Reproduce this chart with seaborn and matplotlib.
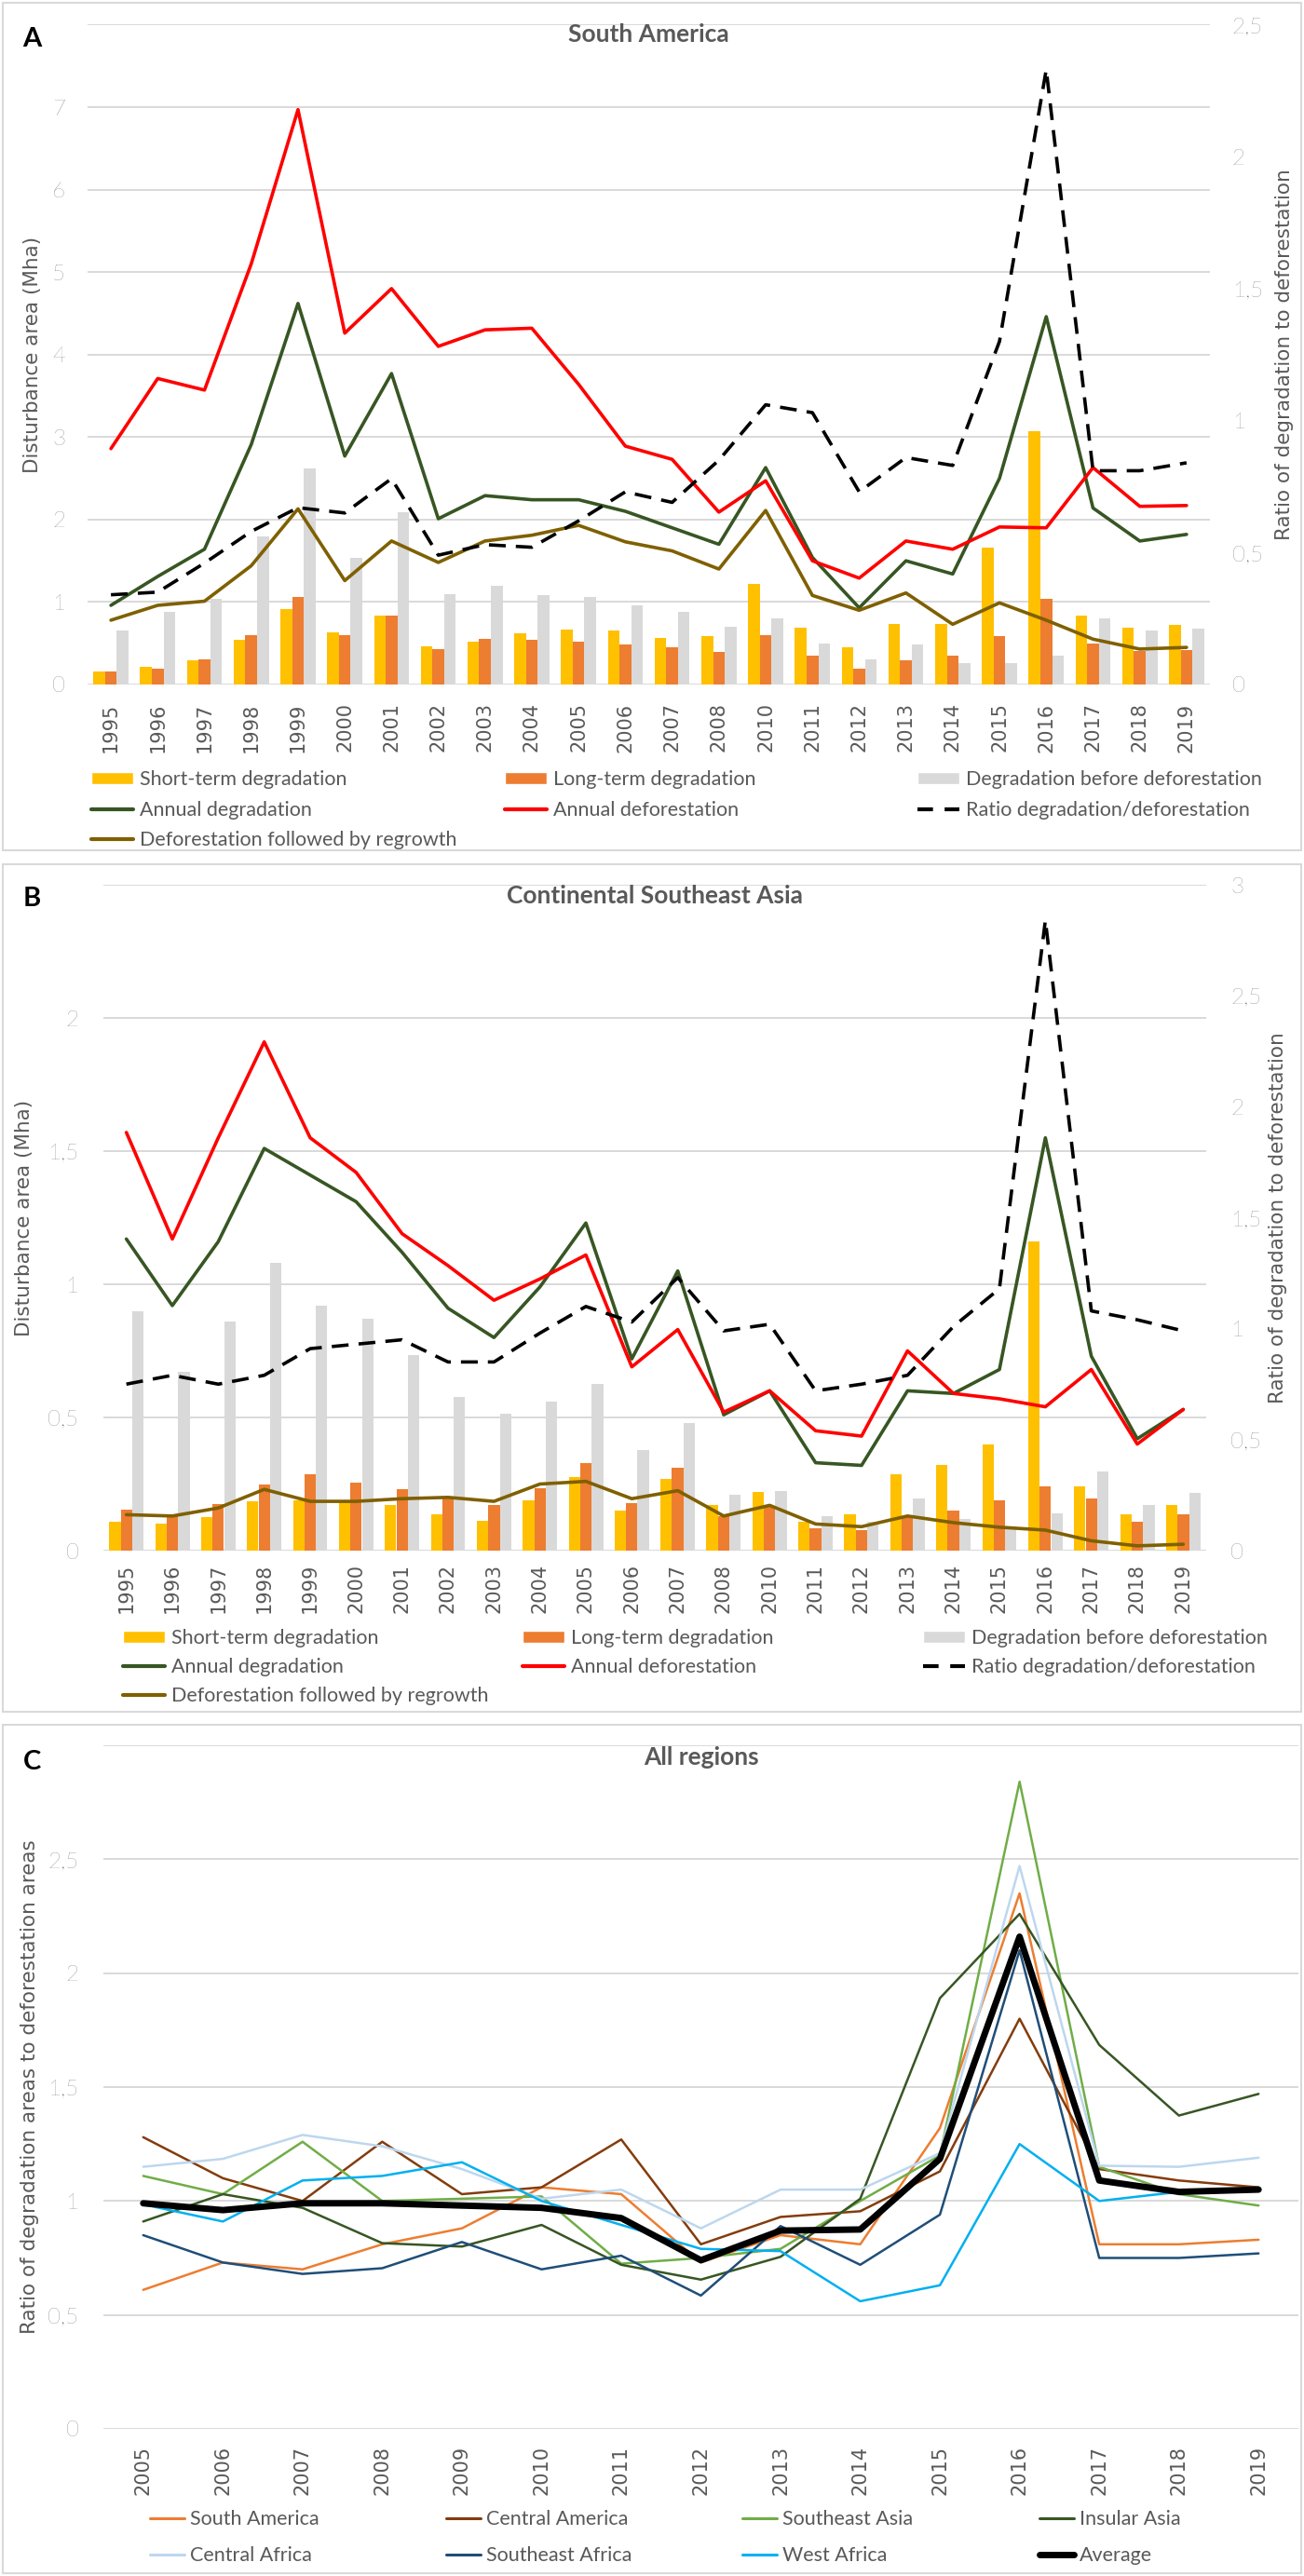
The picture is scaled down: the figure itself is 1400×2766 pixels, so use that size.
import numpy as np
import matplotlib
matplotlib.use('Agg')
import matplotlib.pyplot as plt
from matplotlib.patches import Rectangle, Patch
from matplotlib.lines import Line2D
import pandas as pd
import seaborn as sns

# ---- data ----
years = ['1995', '1996', '1997', '1998', '1999', '2000', '2001', '2002', '2003', '2004',
         '2005', '2006', '2007', '2008', '2010', '2011', '2012', '2013', '2014', '2015',
         '2016', '2017', '2018', '2019']

# A: South America (Mha, ratio on right axis)
sa_short = [0.16, 0.21, 0.29, 0.54, 0.92, 0.63, 0.84, 0.46, 0.52, 0.62, 0.67, 0.65,
            0.56, 0.59, 1.22, 0.69, 0.45, 0.73, 0.73, 1.66, 3.07, 0.83, 0.69, 0.72]
sa_long = [0.16, 0.19, 0.31, 0.60, 1.06, 0.60, 0.84, 0.43, 0.55, 0.54, 0.52, 0.49,
           0.45, 0.39, 0.60, 0.35, 0.19, 0.29, 0.35, 0.59, 1.04, 0.50, 0.41, 0.42]
sa_before = [0.65, 0.88, 1.04, 1.80, 2.62, 1.54, 2.09, 1.10, 1.20, 1.08, 1.06, 0.96,
             0.88, 0.70, 0.80, 0.50, 0.30, 0.48, 0.26, 0.26, 0.35, 0.80, 0.65, 0.68]
sa_degr = [0.96, 1.31, 1.64, 2.91, 4.62, 2.77, 3.77, 2.01, 2.29, 2.24, 2.24, 2.10,
           1.90, 1.70, 2.63, 1.54, 0.93, 1.50, 1.34, 2.50, 4.46, 2.14, 1.74, 1.82]
sa_defor = [2.86, 3.71, 3.57, 5.10, 6.97, 4.26, 4.80, 4.10, 4.30, 4.32, 3.64, 2.89,
            2.73, 2.09, 2.47, 1.50, 1.29, 1.74, 1.64, 1.91, 1.90, 2.63, 2.16, 2.17]
sa_regrowth = [0.78, 0.96, 1.01, 1.44, 2.13, 1.26, 1.74, 1.48, 1.74, 1.81, 1.93, 1.73,
               1.62, 1.40, 2.11, 1.08, 0.90, 1.11, 0.73, 0.99, 0.78, 0.55, 0.43, 0.45]
sa_ratio = [0.34, 0.35, 0.46, 0.58, 0.67, 0.65, 0.78, 0.49, 0.53, 0.52, 0.62, 0.73,
            0.69, 0.85, 1.06, 1.03, 0.73, 0.86, 0.83, 1.30, 2.33, 0.81, 0.81, 0.84]

# B: Continental Southeast Asia
csa_short = [0.11, 0.10, 0.125, 0.185, 0.19, 0.19, 0.17, 0.137, 0.112, 0.19, 0.277, 0.15,
             0.27, 0.17, 0.22, 0.11, 0.135, 0.285, 0.32, 0.40, 1.16, 0.24, 0.137, 0.17]
csa_long = [0.155, 0.135, 0.175, 0.25, 0.285, 0.255, 0.23, 0.20, 0.17, 0.235, 0.33, 0.18,
            0.31, 0.13, 0.165, 0.083, 0.077, 0.13, 0.15, 0.19, 0.24, 0.195, 0.108, 0.135]
csa_before = [0.90, 0.67, 0.86, 1.08, 0.92, 0.87, 0.735, 0.577, 0.514, 0.56, 0.626, 0.377,
              0.48, 0.21, 0.224, 0.128, 0.11, 0.195, 0.118, 0.09, 0.14, 0.296, 0.17, 0.218]
csa_degr = [1.17, 0.92, 1.16, 1.51, 1.41, 1.31, 1.12, 0.91, 0.80, 0.99, 1.23, 0.72,
            1.05, 0.51, 0.60, 0.33, 0.32, 0.60, 0.59, 0.68, 1.55, 0.73, 0.42, 0.53]
csa_defor = [1.57, 1.17, 1.55, 1.91, 1.55, 1.42, 1.19, 1.07, 0.94, 1.02, 1.11, 0.69,
             0.83, 0.52, 0.60, 0.45, 0.43, 0.75, 0.59, 0.57, 0.54, 0.68, 0.40, 0.53]
csa_regrowth = [0.135, 0.13, 0.16, 0.23, 0.185, 0.185, 0.195, 0.20, 0.185, 0.25, 0.26, 0.195,
                0.225, 0.13, 0.17, 0.10, 0.09, 0.13, 0.105, 0.088, 0.077, 0.037, 0.018, 0.024]
csa_ratio = [0.75, 0.79, 0.75, 0.79, 0.91, 0.93, 0.95, 0.85, 0.85, 0.98, 1.10, 1.03,
             1.23, 0.99, 1.02, 0.72, 0.75, 0.79, 1.01, 1.18, 2.84, 1.08, 1.04, 0.99]

# C: ratio for all regions
years_c = [str(y) for y in range(2005, 2020)]
r_south_america = [0.61, 0.73, 0.70, 0.81, 0.88, 1.06, 1.03, 0.73, 0.85, 0.81, 1.32, 2.35, 0.81, 0.81, 0.83]
r_central_america = [1.28, 1.10, 1.00, 1.26, 1.03, 1.06, 1.27, 0.81, 0.93, 0.955, 1.13, 1.80, 1.14, 1.09, 1.06]
r_southeast_asia = [1.11, 1.03, 1.26, 1.00, 1.01, 1.02, 0.725, 0.75, 0.79, 1.00, 1.20, 2.84, 1.15, 1.03, 0.98]
r_insular_asia = [0.91, 1.03, 0.97, 0.815, 0.80, 0.895, 0.72, 0.655, 0.755, 1.01, 1.89, 2.26, 1.685, 1.375, 1.47]
r_central_africa = [1.15, 1.185, 1.29, 1.24, 1.14, 1.01, 1.05, 0.88, 1.05, 1.05, 1.21, 2.47, 1.155, 1.15, 1.19]
r_southeast_africa = [0.85, 0.73, 0.68, 0.705, 0.82, 0.70, 0.76, 0.585, 0.89, 0.72, 0.94, 2.10, 0.75, 0.75, 0.77]
r_west_africa = [0.985, 0.91, 1.09, 1.11, 1.17, 1.00, 0.895, 0.79, 0.78, 0.56, 0.63, 1.25, 1.00, 1.04, 1.05]
r_average = [0.99, 0.96, 0.99, 0.99, 0.98, 0.97, 0.925, 0.74, 0.87, 0.875, 1.185, 2.16, 1.09, 1.04, 1.05]

# ---- style ----
sns.set_style('white')
NARROW = ['Lato', 'DejaVu Sans']
WIDE = ['DejaVu Sans']
plt.rcParams['font.family'] = NARROW

GRID = '#D9D9D9'
TXT = '#595959'
BAR_COLORS = ['#FFC000', '#ED7D31', '#D9D9D9']
C_DEGR, C_DEFOR, C_REGROW = '#375623', '#FF0000', '#7F6000'

W, H = 1400, 2766
fig = plt.figure(figsize=(W / 100, H / 100), dpi=100)


def axes_px(l, t, r, b):
    return fig.add_axes([l / W, 1 - b / H, (r - l) / W, (b - t) / H])


def comma(v):
    return ('%g' % v).replace('.', ',')


def legend_at(handle, label, x, y, fs=15.5, hl=2.1):
    lg = fig.legend(handles=[handle], labels=[label], loc='center left',
                    bbox_to_anchor=(x / W, 1 - y / H), frameon=False, fontsize=fs,
                    handlelength=hl, handleheight=0.6, handletextpad=0.3,
                    borderpad=0, borderaxespad=0, labelcolor=TXT)
    return lg


def box(top, bottom):
    fig.add_artist(Rectangle((3 / W, 1 - bottom / H), (W - 6) / W, (bottom - top) / H,
                             transform=fig.transFigure, fill=False, edgecolor=GRID, lw=1.5))


def style_ticks(ax, pad):
    ax.tick_params(axis='y', length=0, labelsize=17.5, labelcolor=TXT, pad=pad)
    for lbl in ax.get_yticklabels():
        lbl.set_fontweight('light')


def style_main(ax, ymax, step, xpad, ypad):
    ticks = np.arange(0, ymax + step / 2, step)
    ax.set_ylim(0, ymax)
    ax.set_yticks(ticks)
    ax.set_yticklabels([comma(t) for t in ticks[:-1]] + [''])
    ax.yaxis.grid(True, color=GRID, lw=1.4)
    ax.xaxis.grid(False)
    ax.set_axisbelow(True)
    for s in ax.spines.values():
        s.set_visible(False)
    style_ticks(ax, ypad)
    ax.tick_params(axis='x', length=0, labelsize=15, labelcolor=TXT, pad=xpad, rotation=90)
    for lbl in ax.get_xticklabels():
        lbl.set_fontfamily(WIDE)
    ax.set_xlabel('')


def disturbance_panel(top, bottom, left, right, short, long_, before, degr, defor, regrow,
                      ratio, ymax, rmax, title, letter, letter_y, title_y, leg_x, leg_y,
                      ylab_x, rlab_x, xpad, ypad):
    n = len(years)
    ax = axes_px(left, top, right, bottom)
    bars = pd.DataFrame({'year': years * 3,
                         'value': short + long_ + before,
                         'kind': ['Short-term'] * n + ['Long-term'] * n + ['Before'] * n})
    sns.barplot(data=bars, x='year', y='value', hue='kind', palette=BAR_COLORS,
                width=0.75, saturation=1, errorbar=None, legend=False, linewidth=0, ax=ax)
    sns.lineplot(x=years, y=degr, color=C_DEGR, lw=2.6, errorbar=None, ax=ax)
    sns.lineplot(x=years, y=defor, color=C_DEFOR, lw=2.6, errorbar=None, ax=ax)
    sns.lineplot(x=years, y=regrow, color=C_REGROW, lw=2.6, errorbar=None, ax=ax)
    ax.set_xlim(-0.5, n - 0.5)
    style_main(ax, ymax, 1 if ymax > 4 else 0.5, xpad, ypad)
    ax.set_ylabel('Disturbance area (Mha)', fontsize=15.5, color=TXT, family=WIDE)
    ax.yaxis.set_label_coords((ylab_x - left) / (right - left), 0.5)

    ax2 = ax.twinx()
    sns.lineplot(x=years, y=ratio, color='black', lw=2.6, errorbar=None, ax=ax2)
    ax2.lines[0].set_dashes((5, 3))
    rticks = np.arange(0, rmax + 0.25, 0.5)
    ax2.set_ylim(0, rmax)
    ax2.set_yticks(rticks)
    ax2.set_yticklabels([comma(t) for t in rticks])
    ax2.set_xlim(-0.5, n - 0.5)
    for s in ax2.spines.values():
        s.set_visible(False)
    style_ticks(ax2, ypad)
    ax2.set_ylabel('Ratio of degradation to deforestation', fontsize=15.5, color=TXT,
                   family=WIDE)
    ax2.yaxis.set_label_coords((rlab_x - left) / (right - left), 0.5)

    ax.text(0.5, 1 - (title_y - top) / (bottom - top), title, transform=ax.transAxes,
            ha='center', va='center', fontsize=19, fontweight='bold', color=TXT)
    fig.text(34 / W, 1 - letter_y / H, letter, ha='center', va='center',
             fontsize=21, fontweight='bold', color='black')

    entries = [
        (Patch(facecolor=BAR_COLORS[0]), 'Short-term degradation', 0, 0),
        (Patch(facecolor=BAR_COLORS[1]), 'Long-term degradation', 1, 0),
        (Patch(facecolor=BAR_COLORS[2]), 'Degradation before deforestation', 2, 0),
        (Line2D([], [], color=C_DEGR, lw=3), 'Annual degradation', 0, 1),
        (Line2D([], [], color=C_DEFOR, lw=3), 'Annual deforestation', 1, 1),
        (Line2D([], [], color='black', lw=3, dashes=(4, 3)), 'Ratio degradation/deforestation', 2, 1),
        (Line2D([], [], color=C_REGROW, lw=3), 'Deforestation followed by regrowth', 0, 2),
    ]
    for h, lab, c, r in entries:
        legend_at(h, lab, leg_x[c], leg_y[r])


# ---- A ----
box(3, 913)
disturbance_panel(26.5, 735, 94, 1299, sa_short, sa_long, sa_before, sa_degr, sa_defor,
                  sa_regrowth, sa_ratio, 8, 2.5, 'South America', 'A', 42, 37,
                  [98, 542, 985], [837, 870, 902], 45, 1369, 14, 17)

# ---- B ----
box(928, 1838)
disturbance_panel(950, 1665, 111, 1295, csa_short, csa_long, csa_before, csa_degr, csa_defor,
                  csa_regrowth, csa_ratio, 2.5, 3, 'Continental Southeast Asia', 'B', 965, 962,
                  [132, 561, 991], [1759, 1790, 1821], 36, 1362, 10, 19)

# ---- C ----
box(1852, 2763)
axc = axes_px(111, 1874, 1394, 2608)
regions = [
    ('South America', r_south_america, '#ED7D31', 1.8),
    ('Central America', r_central_america, '#843C0C', 1.8),
    ('Southeast Asia', r_southeast_asia, '#70AD47', 1.8),
    ('Insular Asia', r_insular_asia, '#375623', 1.8),
    ('Central Africa', r_central_africa, '#BDD7EE', 1.8),
    ('Southeast Africa', r_southeast_africa, '#1F4E79', 1.8),
    ('West Africa', r_west_africa, '#00B0F0', 1.8),
    ('Average', r_average, 'black', 5.0),
]
for name, vals, col, lw in regions:
    sns.lineplot(x=years_c, y=vals, color=col, lw=lw, errorbar=None, ax=axc)
axc.set_xlim(-0.5, len(years_c) - 0.5)
style_main(axc, 3, 0.5, 13, 19)
axc.set_ylabel('Ratio of degradation areas to deforestation areas', fontsize=15.5,
               color=TXT, family=WIDE)
axc.yaxis.set_label_coords((42 - 111) / (1394 - 111), 0.5)
axc.text(0.5, 1 - (1887 - 1874) / (2608 - 1874), 'All regions', transform=axc.transAxes,
         ha='center', va='center', fontsize=19, fontweight='bold', color=TXT)
fig.text(34 / W, 1 - 1892 / H, 'C', ha='center', va='center', fontsize=21,
         fontweight='bold', color='black')

leg_cx = [161, 479, 797, 1116]
leg_cy = [2705, 2744]
for i, (name, vals, col, lw) in enumerate(regions):
    legend_at(Line2D([], [], color=col, lw=lw if lw > 2 else 2.2), name,
              leg_cx[i % 4], leg_cy[i // 4], fs=15.5, hl=1.7)

fig.savefig('out.png', dpi=100)
